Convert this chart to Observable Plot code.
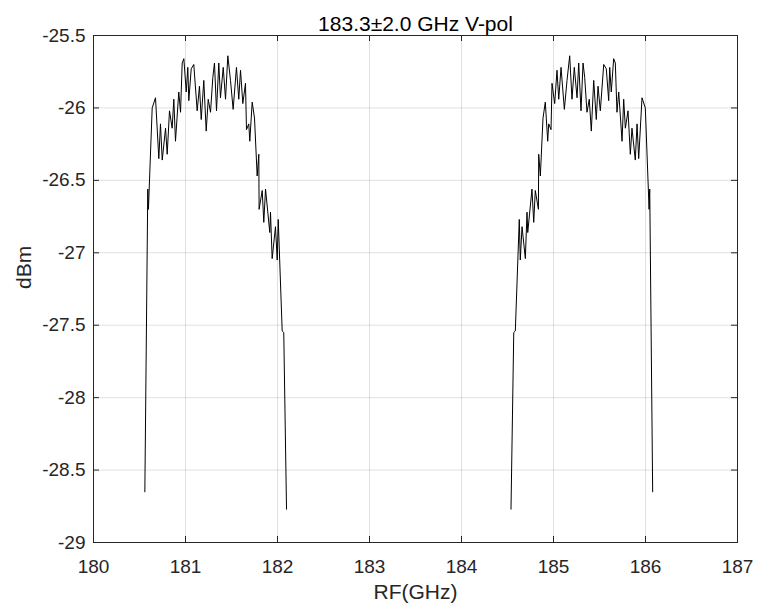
<!DOCTYPE html>
<html>
<head>
<meta charset="utf-8">
<script src="https://cdn.jsdelivr.net/npm/d3@7"></script>
<script src="https://cdn.jsdelivr.net/npm/@observablehq/plot@0.6"></script>
<style>
  html, body { margin: 0; padding: 0; background: #fff; }
  #chart { width: 757px; height: 613px; }
</style>
</head>
<body>
<div id="chart"></div>
<script>
// ---- data ----
const titleText = "183.3±2.0 GHz V-pol";
const xLabel = "RF(GHz)";
const yLabel = "dBm";
const xTicks = [180, 181, 182, 183, 184, 185, 186, 187];
const yTicks = [-29, -28.5, -28, -27.5, -27, -26.5, -26, -25.5];

// lower sideband
const lsbFreq = [180.558, 180.590, 180.597, 180.638, 180.674, 180.710, 180.728, 180.747, 180.783, 180.801,
  180.826, 180.855, 180.873, 180.891, 180.927, 180.946, 180.964, 180.982, 181.008, 181.025,
  181.036, 181.062, 181.090, 181.127, 181.152, 181.171, 181.199, 181.225, 181.247, 181.272,
  181.297, 181.315, 181.337, 181.362, 181.380, 181.410, 181.435, 181.460, 181.489, 181.518,
  181.554, 181.579, 181.598, 181.623, 181.652, 181.663, 181.688, 181.699, 181.725, 181.750,
  181.779, 181.797, 181.800, 181.834, 181.851, 181.870, 181.916, 181.924, 181.942, 181.978,
  181.997, 182.008, 182.051, 182.068, 182.098];
const lsbPower = [-28.65, -26.56, -26.70, -26.00, -25.93, -26.35, -26.11, -26.36, -26.14, -26.32,
  -26.02, -26.14, -25.94, -26.23, -25.89, -26.03, -25.69, -25.66, -25.89, -25.72,
  -25.95, -25.73, -25.70, -26.02, -25.85, -26.08, -25.81, -26.16, -25.94, -26.03,
  -25.79, -25.69, -26.02, -25.69, -25.93, -25.72, -25.94, -25.64, -25.81, -26.01,
  -25.72, -25.94, -25.74, -25.97, -25.83, -26.15, -26.11, -26.23, -25.96, -26.07,
  -26.47, -26.32, -26.70, -26.57, -26.79, -26.56, -26.86, -26.72, -27.04, -26.82,
  -27.05, -26.77, -27.54, -27.55, -28.77];

// upper sideband
const usbFreq = [184.538, 184.568, 184.585, 184.628, 184.639, 184.658, 184.694, 184.712, 184.720, 184.766,
  184.785, 184.802, 184.836, 184.839, 184.857, 184.886, 184.911, 184.937, 184.948, 184.973,
  184.984, 185.013, 185.038, 185.057, 185.082, 185.118, 185.147, 185.176, 185.201, 185.226,
  185.256, 185.274, 185.299, 185.321, 185.339, 185.364, 185.389, 185.411, 185.437, 185.465,
  185.484, 185.509, 185.546, 185.574, 185.600, 185.611, 185.628, 185.654, 185.672, 185.690,
  185.709, 185.745, 185.763, 185.781, 185.810, 185.835, 185.853, 185.889, 185.908, 185.926,
  185.962, 185.998, 186.039, 186.046, 186.078];
const usbPower = [-28.77, -27.55, -27.54, -26.77, -27.05, -26.82, -27.04, -26.72, -26.86, -26.56,
  -26.79, -26.57, -26.70, -26.32, -26.47, -26.07, -25.96, -26.23, -26.11, -26.15,
  -25.83, -25.97, -25.74, -25.94, -25.72, -26.01, -25.81, -25.64, -25.94, -25.72,
  -25.93, -25.69, -26.02, -25.69, -25.79, -26.03, -25.94, -26.16, -25.81, -26.08,
  -25.85, -26.02, -25.70, -25.73, -25.95, -25.72, -25.89, -25.66, -25.69, -26.03,
  -25.89, -26.23, -25.94, -26.14, -26.02, -26.32, -26.14, -26.36, -26.11, -26.35,
  -25.93, -26.00, -26.70, -26.56, -28.65];

// ---- build tables ----
const lsb = lsbFreq.map((f, i) => ({f, p: lsbPower[i]}));
const usb = usbFreq.map((f, i) => ({f, p: usbPower[i]}));

const W = 757, H = 613;
const mL = 93, mR = 20, mT = 35, mB = 71;
const pw = W - mL - mR, ph = H - mT - mB;
const tick = 6;
const axisColor = "#262626";
const font = "'Liberation Sans', Arial, Helvetica, sans-serif";
const fmt = d => String(d);

const chart = Plot.plot({
  width: W,
  height: H,
  marginLeft: mL,
  marginRight: mR,
  marginTop: mT,
  marginBottom: mB,
  style: {fontFamily: font, background: "#fff", color: axisColor},
  x: {domain: [180, 187]},
  y: {domain: [-29, -25.5]},
  marks: [
    Plot.gridX(xTicks, {stroke: "#000", strokeOpacity: 0.12, strokeWidth: 1}),
    Plot.gridY(yTicks, {stroke: "#000", strokeOpacity: 0.12, strokeWidth: 1}),
    // inward ticks (MATLAB style), bottom/top/left/right
    Plot.tickX(xTicks, {x: d => d, insetTop: ph - tick, stroke: axisColor}),
    Plot.tickX(xTicks, {x: d => d, insetBottom: ph - tick, stroke: axisColor}),
    Plot.tickY(yTicks, {y: d => d, insetRight: pw - tick, stroke: axisColor}),
    Plot.tickY(yTicks, {y: d => d, insetLeft: pw - tick, stroke: axisColor}),
    Plot.axisX(xTicks, {tickSize: 0, tickPadding: 17, fontSize: 19, tickFormat: fmt, label: null, fill: axisColor}),
    Plot.axisY(yTicks, {tickSize: 0, tickPadding: 8, fontSize: 19, tickFormat: fmt, label: null, fill: axisColor}),
    Plot.line(lsb, {x: "f", y: "p", stroke: "#000", strokeWidth: 1}),
    Plot.line(usb, {x: "f", y: "p", stroke: "#000", strokeWidth: 1}),
    Plot.frame({stroke: axisColor, strokeWidth: 1}),
    Plot.text([titleText], {frameAnchor: "top", dy: -19, fontSize: 21, fill: "#000"}),
    Plot.text([xLabel], {frameAnchor: "bottom", dy: 56, fontSize: 21, fill: axisColor}),
    Plot.text([yLabel], {frameAnchor: "left", dx: -69, rotate: -90, fontSize: 21, fill: axisColor})
  ]
});
document.getElementById("chart").appendChild(chart);
</script>
</body>
</html>
